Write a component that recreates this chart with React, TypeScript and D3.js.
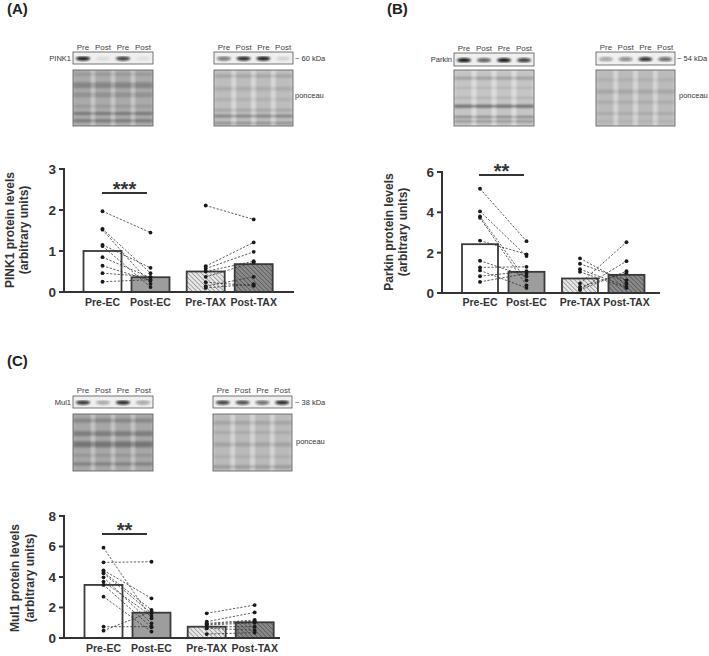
import React from 'react';
import { scaleLinear } from 'd3';

// group labels and bar positions (in slots, gap between EC and TAX)
const categories = ['Pre-EC', 'Post-EC', 'Pre-TAX', 'Post-TAX'];
const slots = [0, 1, 2.15, 3.15];

// PINK1
const pink1Means = [1.0, 0.36, 0.5, 0.68];
const pink1PreEC = [1.97, 1.54, 1.52, 1.15, 1.12, 0.85, 0.64, 0.46, 0.25];
const pink1PostEC = [1.45, 0.46, 0.2, 0.59, 0.12, 0.35, 0.28, 0.37, 0.3];
const pink1PreTAX = [2.11, 0.63, 0.57, 0.5, 0.37, 0.24, 0.14, 0.1];
const pink1PostTAX = [1.77, 1.21, 0.98, 0.75, 0.72, 0.15, 0.37, 0.19];

// Parkin
const parkinMeans = [2.42, 1.05, 0.72, 0.9];
const parkinPreEC = [5.17, 4.05, 3.8, 3.73, 2.6, 1.6, 1.27, 1.12, 0.83, 0.55];
const parkinPostEC = [2.57, 1.83, 0.63, 0.38, 1.92, 0.83, 1.3, 0.25, 1.08, 0.97];
const parkinPreTAX = [1.72, 1.45, 1.18, 1.05, 0.47, 0.3, 0.18, 0.15];
const parkinPostTAX = [0.47, 0.63, 0.32, 0.25, 2.52, 1.0, 1.58, 1.08];

// Mul1
const mul1Means = [3.48, 1.66, 0.74, 1.03];
const mul1PreEC = [5.92, 4.96, 4.44, 4.33, 4.24, 3.98, 3.69, 3.48, 2.71, 0.74, 0.48];
const mul1PostEC = [1.29, 5.0, 2.6, 1.84, 1.62, 0.96, 1.44, 0.7, 0.42, 0.74, 1.73];
const mul1PreTAX = [1.62, 1.07, 0.96, 0.85, 0.74, 0.63, 0.26, 0.9];
const mul1PostTAX = [2.16, 1.68, 1.18, 1.0, 0.74, 0.52, 0.35, 1.1];

// blot band intensities per lane (Pre, Post, Pre, Post)
const laneLabels = ['Pre', 'Post', 'Pre', 'Post'];
const pink1Bands1 = [0.95, 0.08, 0.8, 0.06];
const pink1Bands2 = [0.55, 0.9, 0.95, 0.12];
const parkinBands1 = [0.95, 0.65, 0.95, 0.8];
const parkinBands2 = [0.35, 0.45, 0.85, 0.6];
const mul1Bands1 = [0.85, 0.3, 0.9, 0.35];
const mul1Bands2 = [0.8, 0.75, 0.6, 0.9];

const FONT = '"Liberation Sans", Arial, Helvetica, sans-serif';
const INK = '#333';

function fillFor(i: number) {
    if (i === 0) return '#ffffff';
    if (i === 1) return '#9d9d9d';
    if (i === 2) return 'url(#hatchLight)';
    return 'url(#hatchDark)';
}

function BarPanel(props: any) {
    const c = props.cfg;
    const y = scaleLinear().domain([0, c.yMax]).range([c.y0, c.yTop]);
    const x = scaleLinear().domain([0, 1]).range([c.xStart, c.xStart + c.xStep]);
    const pairs = [[c.preEC, c.postEC, 0, 1], [c.preTAX, c.postTAX, 2, 3]];

    return (
        <g fontFamily={FONT} fontWeight='bold'>
            {c.means.map((m, i) => (
                <rect key={i} x={x(slots[i]) - c.barW / 2} y={y(m)} width={c.barW} height={c.y0 - y(m)}
                    fill={fillFor(i)} stroke='#3a3a3a' strokeWidth={1.8} />
            ))}
            {pairs.map(([pre, post, a, b], g) => pre.map((v, k) => (
                <line key={g + '-' + k} x1={x(slots[a])} y1={y(v)} x2={x(slots[b])} y2={y(post[k])}
                    stroke={INK} strokeWidth={0.8} strokeDasharray='2.2,1.6' />
            )))}
            {pairs.map(([pre, post, a, b], g) => (
                <g key={'p' + g} fill='#1a1a1a'>
                    {pre.map((v, k) => <circle key={'a' + k} cx={x(slots[a])} cy={y(v)} r={1.9} />)}
                    {post.map((v, k) => <circle key={'b' + k} cx={x(slots[b])} cy={y(v)} r={1.9} />)}
                </g>
            ))}
            <line x1={c.axisX} y1={c.yTop - 1} x2={c.axisX} y2={c.y0 + 1} stroke={INK} strokeWidth={2} />
            <line x1={c.axisX - 1} y1={c.y0} x2={c.axisEnd} y2={c.y0} stroke={INK} strokeWidth={2} />
            {c.ticks.map(t => (
                <g key={t}>
                    <line x1={c.axisX - 5} x2={c.axisX} y1={y(t)} y2={y(t)} stroke={INK} strokeWidth={2} />
                    <text x={c.axisX - 8} y={y(t)} dy='0.36em' textAnchor='end' fontSize={13.5} fill={INK}>{t}</text>
                </g>
            ))}
            {categories.map((cat, i) => (
                <text key={cat} x={x(slots[i])} y={c.labelY} textAnchor='middle' fontSize={10.5} fill={INK}>{cat}</text>
            ))}
            {c.titles.map((t, i) => (
                <text key={t} transform={`translate(${c.titleX[i]},${c.titleY}) rotate(-90)`} textAnchor='middle'
                    dy='0.35em' fontSize={12} fill={INK}>{t}</text>
            ))}
            <line x1={c.sig[0]} x2={c.sig[1]} y1={c.sig[2]} y2={c.sig[2]} stroke={INK} strokeWidth={2} />
            <text x={(c.sig[0] + c.sig[1]) / 2} y={c.sig[2] + 3} textAnchor='middle' fontSize={20} fill={INK}>{c.sigText}</text>
        </g>
    );
}

function Blot(props: any) {
    const { x, y, w, h, bands, labelY } = props;
    const lw = w / 4;
    return (
        <g>
            <rect x={x} y={y} width={w} height={h} fill='#efefef' stroke='#555' strokeWidth={0.8} />
            <g filter='url(#blur1)'>
                {bands.map((b, i) => (
                    <ellipse key={i} cx={x + lw * (i + 0.5)} cy={y + h * 0.55} rx={lw * 0.36} ry={2.1}
                        fill='#111' opacity={b} />
                ))}
            </g>
            {laneLabels.map((l, i) => (
                <text key={i} x={x + lw * (i + 0.5)} y={labelY} textAnchor='middle'
                    fontSize={8} fontFamily={FONT} fill='#444'>{l}</text>
            ))}
        </g>
    );
}

function Ponceau(props: any) {
    const { x, y, w, h, base, rows, id } = props;
    const lw = w / 4;
    return (
        <g>
            <clipPath id={id}><rect x={x} y={y} width={w} height={h} /></clipPath>
            <rect x={x} y={y} width={w} height={h} fill={base} />
            <g clipPath={`url(#${id})`} filter='url(#blur2)'>
                {[0, 1, 2, 3].map(i => (
                    <rect key={'l' + i} x={x + lw * i + 1.5} y={y} width={lw - 3} height={h} fill='#000' opacity={0.08} />
                ))}
                {[1, 2, 3].map(i => (
                    <rect key={'s' + i} x={x + lw * i - 1.2} y={y} width={2.4} height={h} fill='#fff' opacity={0.35} />
                ))}
                {rows.map((r, i) => (
                    <rect key={'r' + i} x={x} y={y + h * r[0]} width={w} height={r[1]} fill='#000' opacity={r[2]} />
                ))}
            </g>
            <rect x={x} y={y} width={w} height={h} fill='none' stroke='#555' strokeWidth={0.8} />
        </g>
    );
}

const rowsA1 = [[0.05, 3, 0.12], [0.22, 6, 0.22], [0.4, 5, 0.15], [0.62, 3, 0.12], [0.75, 3, 0.3], [0.88, 3, 0.3]];
const rowsA2 = [[0.08, 3, 0.15], [0.3, 4, 0.1], [0.5, 3, 0.08], [0.7, 2, 0.18], [0.8, 2.5, 0.35], [0.93, 2, 0.3]];
const rowsB1 = [[0.12, 3, 0.2], [0.3, 2, 0.1], [0.48, 2, 0.12], [0.62, 3, 0.45], [0.82, 2, 0.35], [0.9, 2, 0.3]];
const rowsB2 = [[0.15, 3, 0.08], [0.35, 4, 0.12], [0.55, 3, 0.1], [0.75, 3, 0.1], [0.9, 2, 0.08]];
const rowsC1 = [[0.08, 4, 0.2], [0.3, 5, 0.25], [0.48, 6, 0.3], [0.7, 3, 0.12], [0.85, 3, 0.25]];
const rowsC2 = [[0.12, 4, 0.12], [0.3, 3, 0.1], [0.5, 4, 0.14], [0.72, 3, 0.08], [0.9, 3, 0.2]];

const panelA = {
    means: pink1Means, preEC: pink1PreEC, postEC: pink1PostEC, preTAX: pink1PreTAX, postTAX: pink1PostTAX,
    axisX: 64, y0: 292, yTop: 169, yMax: 3, ticks: [0, 1, 2, 3], xStart: 102.5, xStep: 48, barW: 38,
    axisEnd: 294, labelY: 305.5, titles: ['PINK1 protein levels', '(arbitrary units)'], titleX: [10, 24], titleY: 230,
    sig: [102, 147, 193], sigText: '***'
};
const panelB = {
    means: parkinMeans, preEC: parkinPreEC, postEC: parkinPostEC, preTAX: parkinPreTAX, postTAX: parkinPostTAX,
    axisX: 442, y0: 293, yTop: 172, yMax: 6, ticks: [0, 2, 4, 6], xStart: 480, xStep: 46.5, barW: 36,
    axisEnd: 660, labelY: 306, titles: ['Parkin protein levels', '(arbitrary units)'], titleX: [389, 403], titleY: 232,
    sig: [479, 524, 175], sigText: '**'
};
const panelC = {
    means: mul1Means, preEC: mul1PreEC, postEC: mul1PostEC, preTAX: mul1PreTAX, postTAX: mul1PostTAX,
    axisX: 64, y0: 638, yTop: 516, yMax: 8, ticks: [0, 2, 4, 6, 8], xStart: 103.5, xStep: 48, barW: 38,
    axisEnd: 280, labelY: 651.5, titles: ['Mul1 protein levels', '(arbitrary units)'], titleX: [15, 30], titleY: 578,
    sig: [102, 147, 534], sigText: '**'
};

const small = { fontSize: 7.5, fontFamily: FONT, fill: '#333' };

export default function App() {
    return (
        <svg width={709} height={656} style={{ position: 'absolute', left: 0, top: 0, background: '#fff' }}>
            <defs>
                <pattern id='hatchLight' width={3.2} height={3.2} patternUnits='userSpaceOnUse' patternTransform='rotate(-45)'>
                    <rect width={3.2} height={3.2} fill='#e6e6e6' />
                    <line x1={0} y1={0} x2={0} y2={3.2} stroke='#7a7a7a' strokeWidth={1.2} />
                </pattern>
                <pattern id='hatchDark' width={3.2} height={3.2} patternUnits='userSpaceOnUse' patternTransform='rotate(-45)'>
                    <rect width={3.2} height={3.2} fill='#8a8a8a' />
                    <line x1={0} y1={0} x2={0} y2={3.2} stroke='#4a4a4a' strokeWidth={1.2} />
                </pattern>
                <filter id='blur1'><feGaussianBlur stdDeviation={0.9} /></filter>
                <filter id='blur2'><feGaussianBlur stdDeviation={0.8} /></filter>
            </defs>

            <g fontFamily={FONT} fontWeight='bold' fontSize={15} fill='#222'>
                <text x={7} y={14}>(A)</text>
                <text x={387} y={14}>(B)</text>
                <text x={7} y={366}>(C)</text>
            </g>

            {/* (A) blots */}
            <Blot x={73} y={52} w={80} h={12} bands={pink1Bands1} labelY={50} />
            <text x={71} y={61} textAnchor='end' {...small}>PINK1</text>
            <Ponceau id='cA1' x={73} y={70} w={80} h={56} base='#b9b9b9' rows={rowsA1} />
            <Blot x={214} y={52} w={79} h={12} bands={pink1Bands2} labelY={50} />
            <text x={295} y={61} {...small}>~ 60 kDa</text>
            <Ponceau id='cA2' x={214} y={70} w={79} h={56} base='#cdcdcd' rows={rowsA2} />
            <text x={295} y={98} {...small}>ponceau</text>

            {/* (B) blots */}
            <Blot x={454} y={53} w={80} h={13} bands={parkinBands1} labelY={51} />
            <text x={452} y={62} textAnchor='end' {...small}>Parkin</text>
            <Ponceau id='cB1' x={454} y={70} w={80} h={56} base='#d6d6d6' rows={rowsB1} />
            <Blot x={596} y={52} w={79} h={13} bands={parkinBands2} labelY={50} />
            <text x={677} y={61} {...small}>~ 54 kDa</text>
            <Ponceau id='cB2' x={596} y={70} w={79} h={56} base='#cbcbcb' rows={rowsB2} />
            <text x={679} y={98} {...small}>ponceau</text>

            {/* (C) blots */}
            <Blot x={73} y={396} w={80} h={12} bands={mul1Bands1} labelY={393} />
            <text x={71} y={405} textAnchor='end' {...small}>Mul1</text>
            <Ponceau id='cC1' x={73} y={414} w={80} h={57} base='#b5b5b5' rows={rowsC1} />
            <Blot x={213} y={396} w={79} h={12} bands={mul1Bands2} labelY={393} />
            <text x={295} y={405} {...small}>~ 38 kDa</text>
            <Ponceau id='cC2' x={213} y={414} w={79} h={57} base='#cacaca' rows={rowsC2} />
            <text x={296} y={444} {...small}>ponceau</text>

            <BarPanel cfg={panelA} />
            <BarPanel cfg={panelB} />
            <BarPanel cfg={panelC} />
        </svg>
    );
}
